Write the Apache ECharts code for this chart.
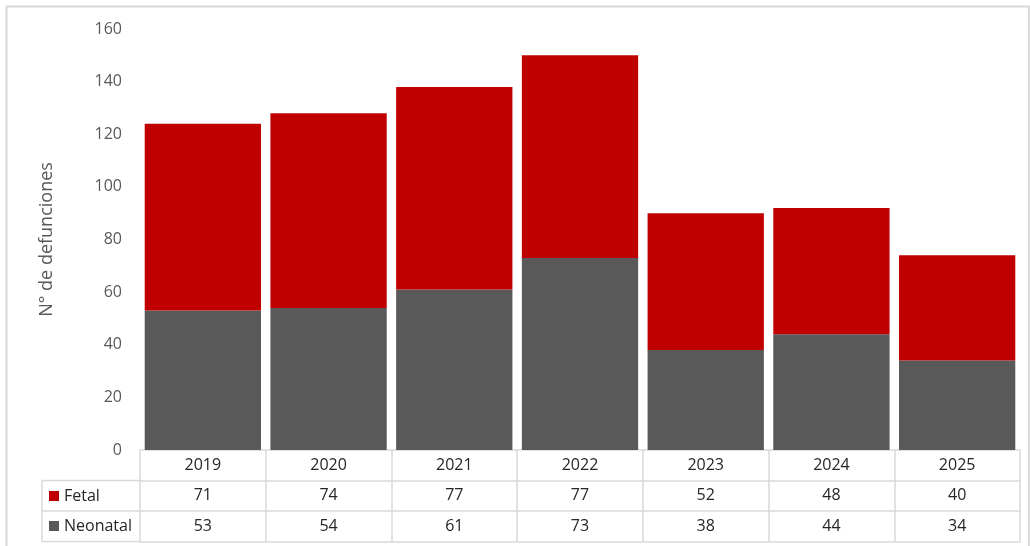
<!DOCTYPE html>
<html>
<head>
<meta charset="utf-8">
<script src="https://cdn.jsdelivr.net/npm/echarts@6/dist/echarts.min.js"></script>
<style>
  html, body { margin: 0; padding: 0; background: #fff; }
  #chart { width: 1030px; height: 546px; }
</style>
</head>
<body>
<div id="chart"></div>
<script>
// Defunciones fetales y neonatales por año
const categories = ['2019', '2020', '2021', '2022', '2023', '2024', '2025'];
const fetal = [71, 74, 77, 77, 52, 48, 40];
const neonatal = [53, 54, 61, 73, 38, 44, 34];
const seriesNames = ['Fetal', 'Neonatal'];

const RED = '#C00000';
const GRAY = '#595959';
const LINE = '#d9d9d9';
const TEXT = '#262626';
const FONT = 'Open Sans';
const ROW = 30.5;

const chart = echarts.init(document.getElementById('chart'), null, { renderer: 'canvas' });

// one bottom axis per table row: years, fetal values, neonatal values, closing line
function tableAxis(offset, labels, showTicks) {
  return {
    type: 'category',
    data: categories,
    position: 'bottom',
    offset: offset,
    gridIndex: 0,
    axisLine: { show: true, lineStyle: { color: LINE, width: 1.5 } },
    axisTick: { show: showTicks, length: ROW, interval: 0, lineStyle: { color: LINE, width: 1.5 } },
    axisLabel: {
      show: labels !== null,
      interval: 0,
      margin: 7,
      color: TEXT,
      fontFamily: FONT,
      fontSize: 16,
      formatter: function (v, i) { return labels ? String(labels[i]) : ''; }
    },
    splitLine: { show: false }
  };
}

const option = {
  backgroundColor: '#fff',
  animation: false,
  grid: { left: 140, right: 10, top: 29, bottom: 96, containLabel: false },
  xAxis: [
    tableAxis(0, categories, true),
    tableAxis(ROW, fetal, true),
    tableAxis(ROW * 2, neonatal, true),
    tableAxis(ROW * 3, null, false)
  ],
  yAxis: {
    type: 'value',
    min: 0,
    max: 160,
    interval: 20,
    name: 'N° de defunciones',
    nameLocation: 'middle',
    nameGap: 84,
    nameTextStyle: { color: GRAY, fontFamily: FONT, fontSize: 18 },
    axisLine: { show: false },
    axisTick: { show: false },
    splitLine: { show: false },
    axisLabel: { color: GRAY, fontFamily: FONT, fontSize: 16, margin: 18 }
  },
  series: [
    {
      name: seriesNames[1],
      type: 'bar',
      stack: 'total',
      xAxisIndex: 0,
      data: neonatal,
      itemStyle: { color: GRAY },
      barCategoryGap: '7.5%'
    },
    {
      name: seriesNames[0],
      type: 'bar',
      stack: 'total',
      xAxisIndex: 0,
      data: fetal,
      itemStyle: { color: RED },
      barCategoryGap: '7.5%'
    }
  ],
  graphic: [
    // chart frame
    { type: 'rect', shape: { x: 6.5, y: 6.5, width: 1022.5, height: 545 },
      style: { fill: null, stroke: LINE, lineWidth: 2 }, silent: true, z: -1 },
    // row-header column of the data table
    { type: 'line', shape: { x1: 42, y1: 450 + ROW, x2: 140, y2: 450 + ROW }, style: { stroke: LINE, lineWidth: 1.5 } },
    { type: 'line', shape: { x1: 42, y1: 450 + ROW * 2, x2: 140, y2: 450 + ROW * 2 }, style: { stroke: LINE, lineWidth: 1.5 } },
    { type: 'line', shape: { x1: 42, y1: 450 + ROW * 3, x2: 140, y2: 450 + ROW * 3 }, style: { stroke: LINE, lineWidth: 1.5 } },
    { type: 'line', shape: { x1: 42, y1: 450 + ROW, x2: 42, y2: 450 + ROW * 3 }, style: { stroke: LINE, lineWidth: 1.5 } },
    { type: 'rect', shape: { x: 49, y: 491, width: 10, height: 10 }, style: { fill: RED } },
    { type: 'text', x: 64, y: 496, style: { text: seriesNames[0], fill: TEXT, font: '16px "' + FONT + '"', verticalAlign: 'middle' } },
    { type: 'rect', shape: { x: 49, y: 521, width: 10, height: 10 }, style: { fill: GRAY } },
    { type: 'text', x: 64, y: 526, style: { text: seriesNames[1], fill: TEXT, font: '16px "' + FONT + '"', verticalAlign: 'middle' } }
  ]
};

chart.setOption(option);
</script>
</body>
</html>
